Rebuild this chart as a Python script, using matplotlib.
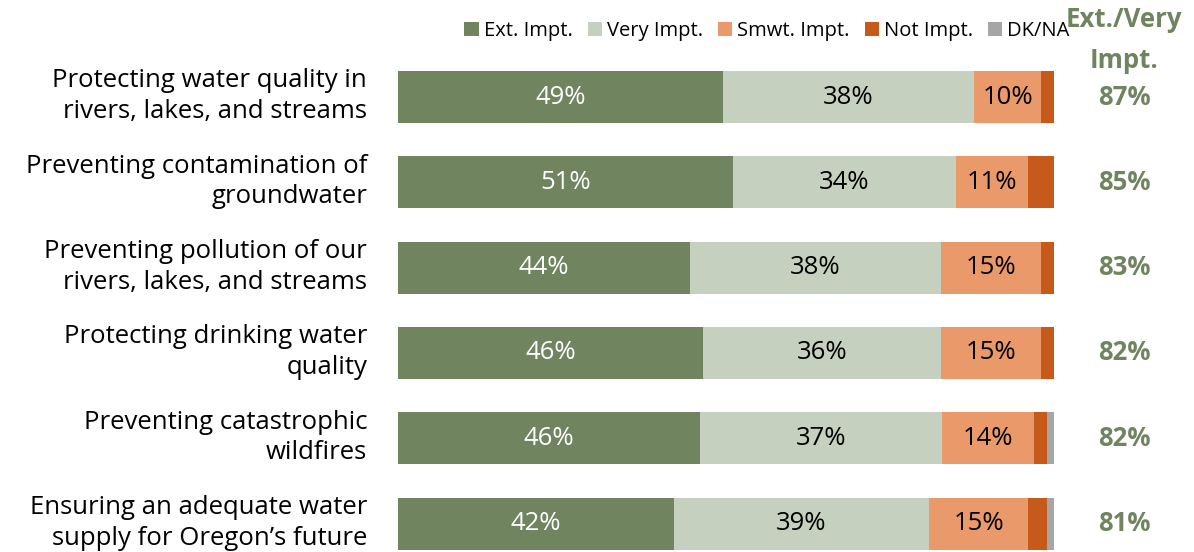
import numpy as np
import matplotlib
matplotlib.use("Agg")
import matplotlib.pyplot as plt
from matplotlib.patches import Patch

plt.rcParams['font.family'] = ['Open Sans', 'DejaVu Sans']

CATEGORIES = [
    "Protecting water quality in\nrivers, lakes, and streams",
    "Preventing contamination of\ngroundwater",
    "Preventing pollution of our\nrivers, lakes, and streams",
    "Protecting drinking water\nquality",
    "Preventing catastrophic\nwildfires",
    "Ensuring an adequate water\nsupply for Oregon\u2019s future",
]
SERIES = ["Ext. Impt.", "Very Impt.", "Smwt. Impt.", "Not Impt.", "DK/NA"]
EXT = [49, 51, 44, 46, 46, 42]
VERY = [38, 34, 38, 36, 37, 39]
SMWT = [10, 11, 15, 15, 14, 15]
NOT = [2, 4, 2, 2, 2, 3]
DKNA = [0, 0, 0, 0, 1, 1]
TOTAL_LABELS = ["87%", "85%", "83%", "82%", "82%", "81%"]

COLORS = ["#70855F", "#C6D0BF", "#E9996A", "#C55A1B", "#A6A6A6"]
TEXT_COLORS = ["white", "black", "black", None, None]
GREEN_TXT = "#70855F"


def main():
    fig = plt.figure(figsize=(11.94, 5.52), dpi=100)
    ax = fig.add_axes([398 / 1194, -0.0257, 656 / 1194, 0.927])

    data = np.array([EXT, VERY, SMWT, NOT, DKNA], dtype=float)
    # stacked 100% chart: each row is scaled to its own total
    data = data / data.sum(axis=0) * 100
    y = np.arange(len(CATEGORIES))
    left = np.zeros(len(CATEGORIES))
    raw = [EXT, VERY, SMWT, NOT, DKNA]
    for i, name in enumerate(SERIES):
        ax.barh(y, data[i], left=left, height=0.61, color=COLORS[i],
                label=name, edgecolor="none")
        if TEXT_COLORS[i]:
            for j in range(len(y)):
                ax.text(left[j] + data[i][j] / 2, y[j], f"{raw[i][j]}%",
                        ha="center", va="center", fontsize=18.5,
                        color=TEXT_COLORS[i])
        left += data[i]

    ax.set_xlim(0, 100)
    ax.set_ylim(len(CATEGORIES) - 0.5, -0.5)
    ax.set_yticks([])
    ax.set_xticks([])
    for s in ax.spines.values():
        s.set_visible(False)

    # category labels, right aligned left of the bars
    for j in range(len(y)):
        ax.text(-31 / 656, y[j] - 0.01, CATEGORIES[j],
                transform=ax.get_yaxis_transform(), ha="right", va="center",
                fontsize=18.5, linespacing=1.3)

    # Ext./Very column, to the right of the bars
    col_x = (1124 - 398) / 656
    for j in range(len(y)):
        ax.text(col_x, y[j], TOTAL_LABELS[j], transform=ax.get_yaxis_transform(),
                ha="center", va="center", fontsize=18.5, fontweight="bold",
                color=GREEN_TXT)
    fig.text(1124 / 1194, 1 - 40 / 552, "Ext./Very\nImpt.", ha="center",
             va="center", fontsize=18.5, fontweight="bold", color=GREEN_TXT,
             linespacing=1.7)

    handles = [Patch(facecolor=c, edgecolor="none") for c in COLORS]
    fig.legend(handles, SERIES, loc="center", ncol=5,
               bbox_to_anchor=(767 / 1194, 1 - 31 / 552), frameon=False,
               fontsize=14.5, handlelength=0.7, handleheight=0.7,
               handletextpad=0.25, columnspacing=0.75)

    fig.savefig("out.png", dpi=100)


if __name__ == "__main__":
    main()
